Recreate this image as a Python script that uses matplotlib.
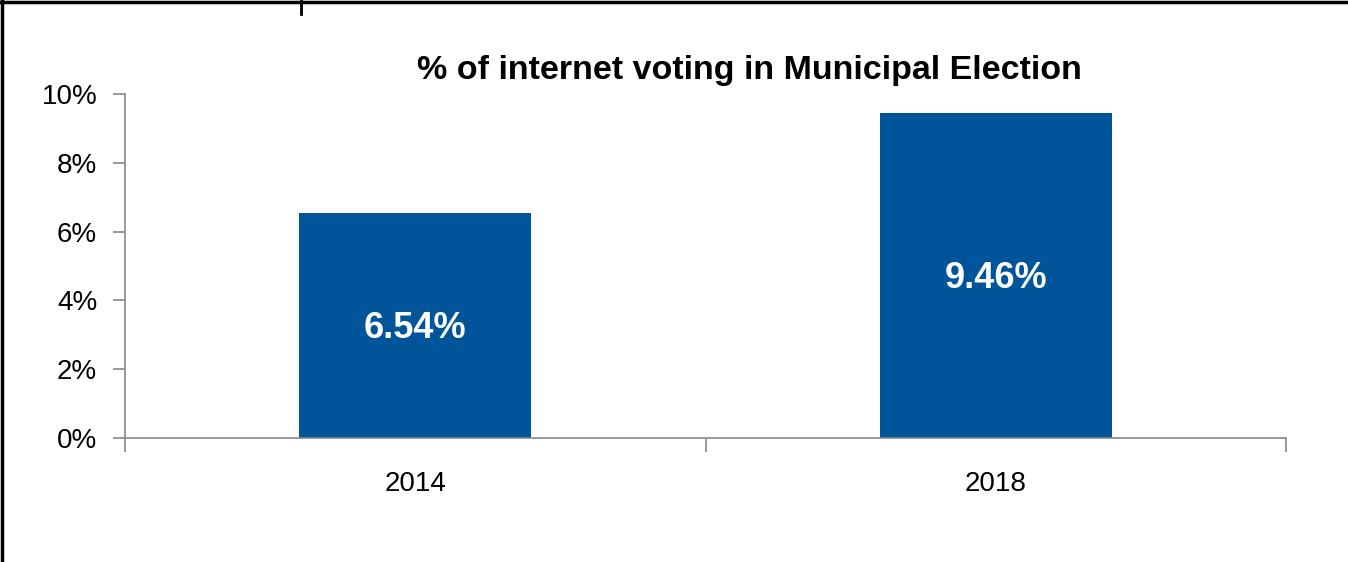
import matplotlib
matplotlib.use("Agg")
import matplotlib.pyplot as plt
from matplotlib.lines import Line2D

# data
years = ["2014", "2018"]
share = [6.54, 9.46]
labels = ["6.54%", "9.46%"]
yticks = [0, 2, 4, 6, 8, 10]

plt.rcParams['font.family'] = ['Liberation Sans', 'DejaVu Sans']

fig = plt.figure(figsize=(13.48, 5.62), dpi=100)
W, H = 1348, 562
ax = fig.add_axes([125 / W, 1 - 438 / H, (1286 - 125) / W, (438 - 94) / H])

x = range(len(years))
bars = ax.bar(x, share, width=0.4, color="#00559A")
for b, t in zip(bars, labels):
    ax.text(b.get_x() + b.get_width() / 2, b.get_height() / 2 - 0.1, t,
            ha="center", va="center", color="white", fontsize=26, fontweight="bold")

ax.set_xlim(-0.5, len(years) - 0.5)
ax.set_ylim(0, 10)
ax.set_yticks(yticks)
ax.set_yticklabels([f"{v}%" for v in yticks], fontsize=20)
ax.set_xticks(x)
ax.set_xticklabels(years, fontsize=20)
ax.tick_params(axis="x", length=0, pad=24)
ax.tick_params(axis="y", length=9, width=1.2, color="#888888", pad=11)
# category boundary ticks
ax.set_xticks([-0.5, 0.5, 1.5], minor=True)
ax.tick_params(axis="x", which="minor", length=10, width=1.2, color="#888888")
for s in ["top", "right"]:
    ax.spines[s].set_visible(False)
for s in ["left", "bottom"]:
    ax.spines[s].set_color("#888888")
    ax.spines[s].set_linewidth(1.2)

fig.text(749 / W, 1 - 70 / H, "% of internet voting in Municipal Election",
         ha="center", va="center", fontsize=24.5, fontweight="bold")

# outer frame lines (left and top)
fig.add_artist(Line2D([2 / W, 2 / W], [0, 1], color="black", lw=2.5, transform=fig.transFigure))
fig.add_artist(Line2D([0, 1], [1 - 2 / H, 1 - 2 / H], color="black", lw=2.5, transform=fig.transFigure))
fig.add_artist(Line2D([301 / W, 301 / W], [1 - 14 / H, 1], color="black", lw=2, transform=fig.transFigure))

fig.savefig("out.png", dpi=100)
